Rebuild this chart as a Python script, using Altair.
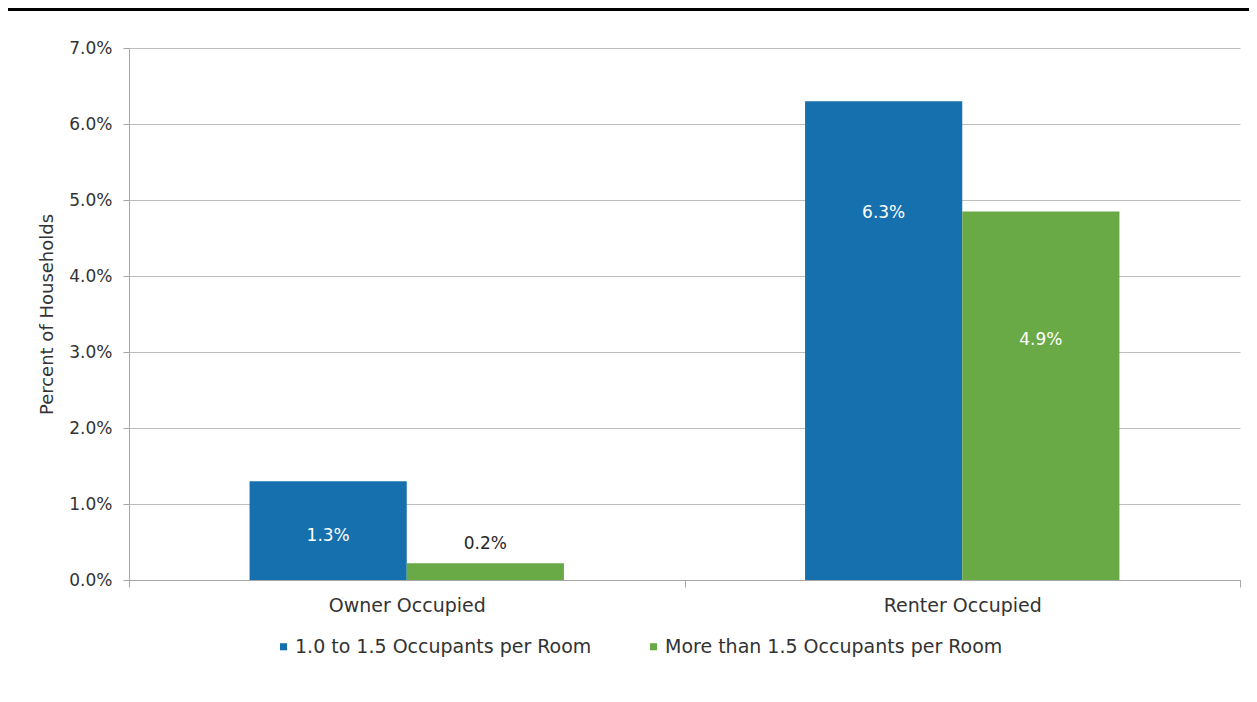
import altair as alt
import pandas as pd

categories = ["Owner Occupied", "Renter Occupied"]
series = ["1.0 to 1.5 Occupants per Room", "More than 1.5 Occupants per Room"]
owner_values = [0.013, 0.0022]
renter_values = [0.063, 0.0485]
owner_labels = ["1.3%", "0.2%"]
renter_labels = ["6.3%", "4.9%"]
owner_label_y = [0.0058, 0.0047]
renter_label_y = [0.0483, 0.0316]
y_ticks = [0.0, 0.01, 0.02, 0.03, 0.04, 0.05, 0.06, 0.07]
colors = ["#1670ad", "#6aaa46"]

rows = []
for cat, vals, labs, ly in [
    (categories[0], owner_values, owner_labels, owner_label_y),
    (categories[1], renter_values, renter_labels, renter_label_y),
]:
    for s, v, l, y in zip(series, vals, labs, ly):
        rows.append({"category": cat, "series": s, "value": v, "label": l, "label_y": y})
df = pd.DataFrame(rows)

FONT = "DejaVu Sans"
W, H = 1111, 532

x_enc = alt.X(
    "category:N",
    sort=categories,
    scale=alt.Scale(paddingInner=0, paddingOuter=0),
    axis=alt.Axis(
        title=None, labelAngle=0, tickBand="extent", labelFontSize=19,
        labelColor="#333333", labelPadding=9, domainColor="#a6a6a6",
        tickColor="#a6a6a6", tickSize=7, labelFont=FONT,
    ),
)
xo_enc = alt.XOffset("series:N", sort=series, scale=alt.Scale(paddingOuter=0.767, paddingInner=0))

base = alt.Chart(df)

bars = base.mark_bar().encode(
    x=x_enc,
    xOffset=xo_enc,
    y=alt.Y(
        "value:Q",
        scale=alt.Scale(domain=[0, 0.07], nice=False),
        axis=alt.Axis(
            format=".1%", values=y_ticks, title="Percent of Households",
            titleFontSize=18, titleFontWeight="normal", titleColor="#333333",
            titlePadding=12, labelFontSize=17, labelColor="#333333", labelPadding=11,
            tickSize=6, tickColor="#a6a6a6", domainColor="#a6a6a6",
            gridColor="#bdbdbd", labelFont=FONT, titleFont=FONT,
        ),
    ),
    color=alt.Color(
        "series:N",
        sort=series,
        scale=alt.Scale(domain=series, range=colors),
        legend=alt.Legend(
            title=None, orient="none", legendX=145, legendY=589, direction="horizontal",
            symbolType="square", symbolSize=50, symbolStrokeWidth=0, labelFontSize=19,
            labelColor="#333333", columnPadding=52, labelFont=FONT, symbolOpacity=1,
            labelLimit=0, labelOffset=2,
        ),
    ),
)

labels = base.mark_text(fontSize=17, font=FONT, baseline="middle").encode(
    x=alt.X("category:N", sort=categories),
    xOffset=alt.XOffset("series:N", sort=series),
    y=alt.Y("label_y:Q"),
    text="label:N",
    color=alt.condition("datum.value < 0.005", alt.value("#262626"), alt.value("white")),
)

top_line = alt.Chart(pd.DataFrame({"k": [0]})).mark_rule(color="black", strokeWidth=3).encode(
    x=alt.value(-121), x2=alt.value(W + 10), y=alt.value(-38.5)
)

chart = (
    alt.layer(bars, labels, top_line)
    .properties(
        width=W, height=H,
        autosize=alt.AutoSizeParams(type="none"),
        padding={"left": 121, "top": 40, "right": 9, "bottom": 120},
        background="white",
    )
    .configure_view(stroke=None)
)

chart.save("out.html", embed_options={"renderer": "svg", "actions": False})
